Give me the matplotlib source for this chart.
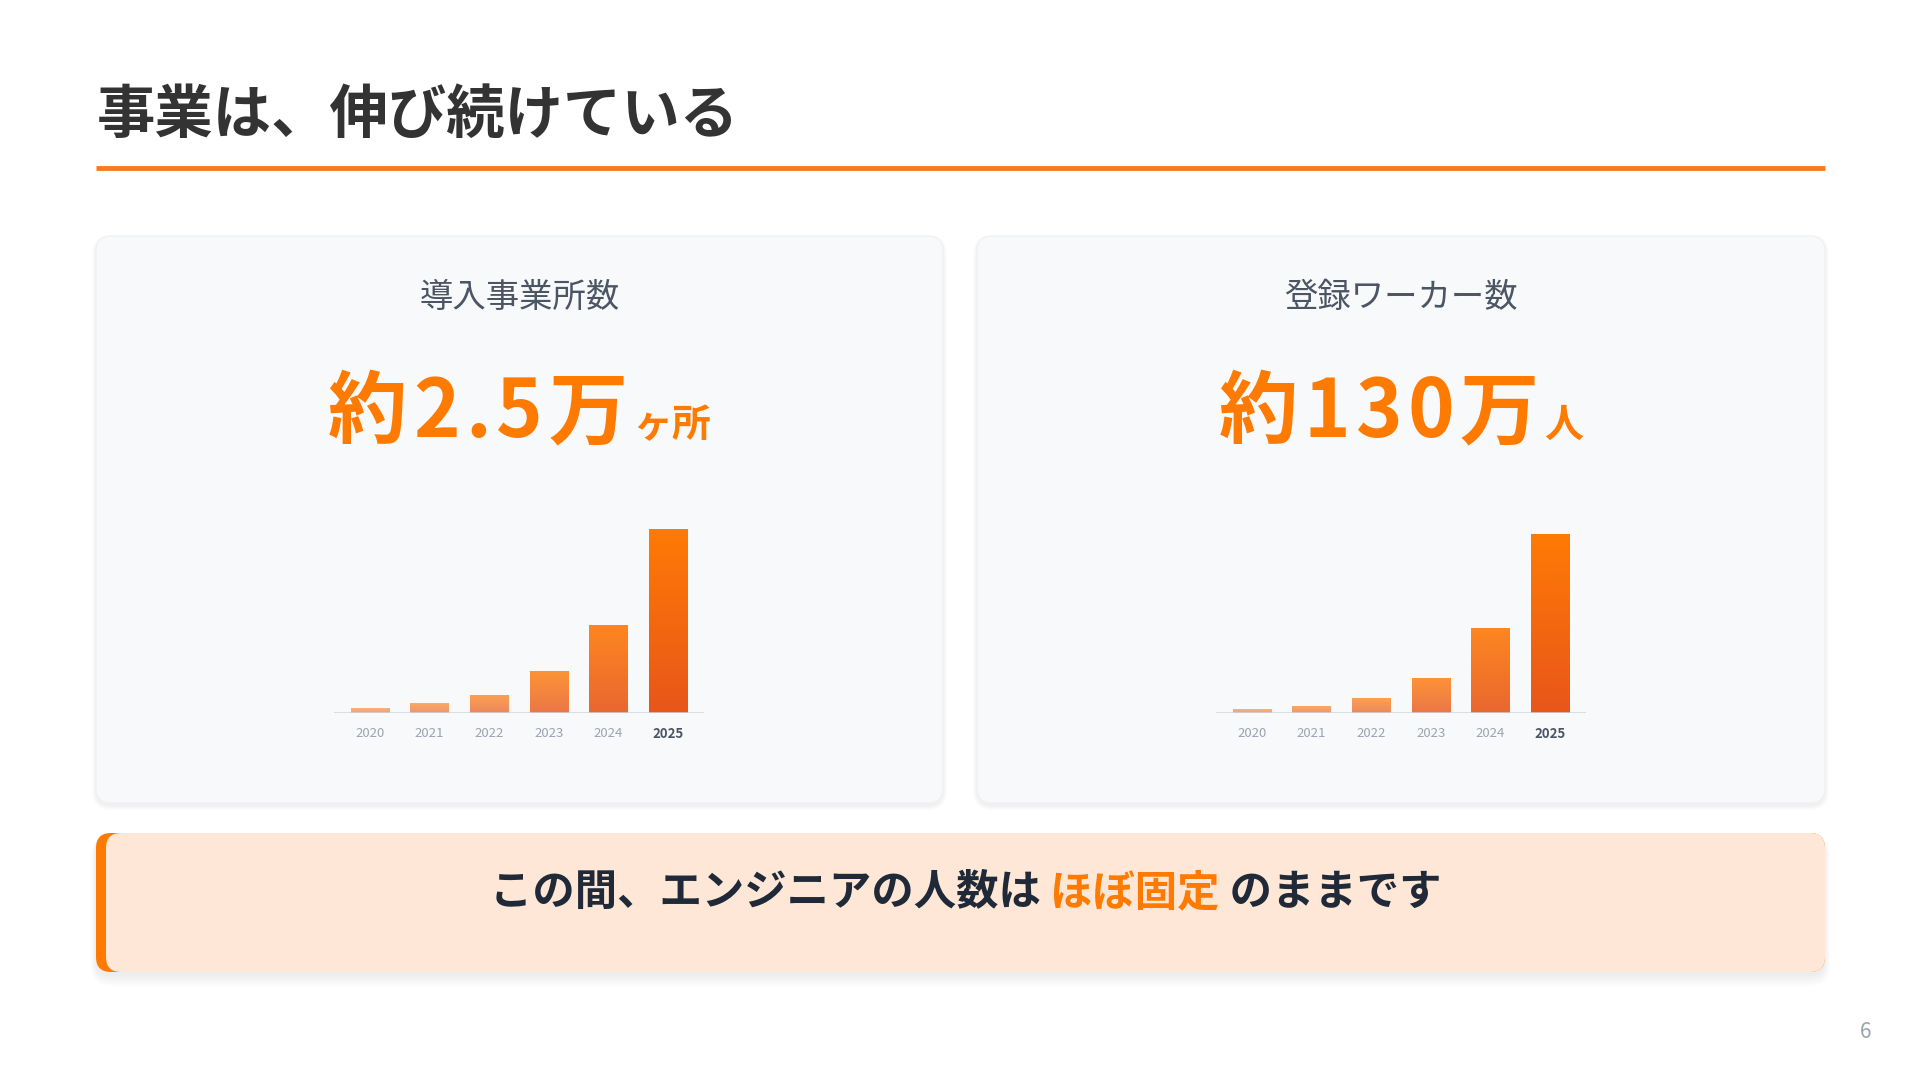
import numpy as np
import matplotlib
matplotlib.use("Agg")
from matplotlib import pyplot as plt
from matplotlib.patches import FancyBboxPatch
from matplotlib.colors import LinearSegmentedColormap

plt.rcParams['font.family'] = ['Noto Sans CJK JP', 'DejaVu Sans']

# data
years = ['2020', '2021', '2022', '2023', '2024', '2025']
offices = [0.07, 0.13, 0.25, 0.57, 1.2, 2.5]      # 万ヶ所
workers = [2.7, 5.1, 10.9, 25.5, 61.8, 130]        # 万人
bar_alpha = [0.55, 0.62, 0.7, 0.8, 0.9, 1.0]

title = '事業は、伸び続けている'
card_titles = ['導入事業所数', '登録ワーカー数']
big_main = ['約2.5万', '約130万']
big_unit = ['ヶ所', '人']
msg_parts = ['この間、エンジニアの人数は ', 'ほぼ固定', ' のままです']

ORANGE = '#FF7A00'
DARK = '#1F2937'
W, H = 1920, 1080

fig = plt.figure(figsize=(19.2, 10.8), dpi=100, facecolor='white')
ax = fig.add_axes([0, 0, 1, 1])
ax.set_xlim(0, W)
ax.set_ylim(H, 0)
ax.axis('off')


def rbox(x, y, w, h, r, **kw):
    p = FancyBboxPatch((x, y), w, h, boxstyle='round,pad=0,rounding_size=%d' % r, **kw)
    ax.add_patch(p)
    return p


# title + rule
ax.text(97, 116, title, fontsize=42, fontweight='bold', color='#333333', va='center', ha='left')
ax.plot([96, 1825], [168, 168], color='#F47B20', lw=3.5, solid_capstyle='butt')

# cards
cards = [(96, 236, 847, 567), (977, 236, 848, 567)]
for (x, y, w, h) in cards:
    for k in range(5):
        rbox(x - k, y - k + 3, w + 2 * k, h + 2 * k, 15 + k, facecolor='#000000',
             edgecolor='none', alpha=0.01, zorder=1)
    rbox(x, y, w, h, 15, facecolor='#F8F9FB', edgecolor='#F0F1F4', lw=1, zorder=2)

fig.canvas.draw()
renderer = fig.canvas.get_renderer()


def centered_run(cx, y, parts, va='baseline', gap=0):
    # parts: list of (string, kwargs); drawn side by side, centred on cx
    objs = []
    for s, kw in parts:
        objs.append(ax.text(0, y, s, va=va, ha='left', zorder=5, **kw))
    widths = [o.get_window_extent(renderer=renderer).width for o in objs]
    x = cx - (sum(widths) + gap * (len(objs) - 1)) / 2
    for o, wd in zip(objs, widths):
        o.set_x(x)
        x += wd + gap


for i, (x, y, w, h) in enumerate(cards):
    cx = x + w / 2
    ax.text(cx, 297, card_titles[i], fontsize=24, color='#4B5563', ha='center', va='center', zorder=5)
    big = dict(fontsize=57, fontweight='bold', color=ORANGE)
    small = dict(fontsize=28, fontweight='bold', color=ORANGE)
    parts = [(ch, big) for ch in big_main[i]] + [(big_unit[i], small)]
    centered_run(cx, 437, parts, gap=5.5)

# bar charts
cmap = LinearSegmentedColormap.from_list('bar', ['#E8561A', '#FF7A05'])
grad = np.linspace(0, 1, 256).reshape(-1, 1)
chart_boxes = [(334, 713, 2.627), (1216, 713, 140.4)]  # left x, baseline y, y max
for (x0, base, ymax), vals in zip(chart_boxes, [offices, workers]):
    top = 520
    bax = fig.add_axes([x0 / W, 1 - base / H, 370 / W, (base - top) / H])
    bax.patch.set_alpha(0)
    xs = np.arange(len(years))
    bars = bax.bar(xs, vals, width=0.64, color='none', edgecolor='none')
    for b, a in zip(bars, bar_alpha):
        im = bax.imshow(grad, extent=[b.get_x(), b.get_x() + b.get_width(), 0, b.get_height()],
                        origin='lower', aspect='auto', cmap=cmap, alpha=a, zorder=2)
        im.set_clip_path(b)
    bax.set_xlim(-0.6, 5.6)
    bax.set_ylim(0, ymax)
    bax.axhline(0, color='#D1D5DB', lw=1.8, zorder=3)
    for s in bax.spines.values():
        s.set_visible(False)
    bax.set_yticks([])
    bax.set_xticks(xs)
    bax.set_xticklabels(years, fontsize=9.5, color='#9CA3AF')
    bax.tick_params(axis='x', length=0, pad=10)
    lab = bax.get_xticklabels()[-1]
    lab.set_fontweight('bold')
    lab.set_color('#4B5563')

# bottom banner
bx, by, bw, bh = 96, 833, 1729, 139
for k in range(6):
    rbox(bx - k, by + 4, bw + 2 * k, bh + 2 * k, 15 + k, facecolor='#000000',
         edgecolor='none', alpha=0.012, zorder=1)
rbox(bx, by, bw, bh, 15, facecolor=ORANGE, edgecolor='none', zorder=2)
rbox(bx + 10, by, bw - 10, bh, 15, facecolor='#FEE7D6', edgecolor='none', zorder=3)
msg_style = dict(fontsize=30.5, fontweight='bold')
centered_run(bx + bw / 2 + 5, 893, [(msg_parts[0], dict(color=DARK, **msg_style)),
                                    (msg_parts[1], dict(color=ORANGE, **msg_style)),
                                    (msg_parts[2], dict(color=DARK, **msg_style))],
             va='center')

ax.text(1866, 1032, '6', fontsize=15, color='#9CA3AF', ha='center', va='center')

fig.savefig('out.png', dpi=100, facecolor='white')
